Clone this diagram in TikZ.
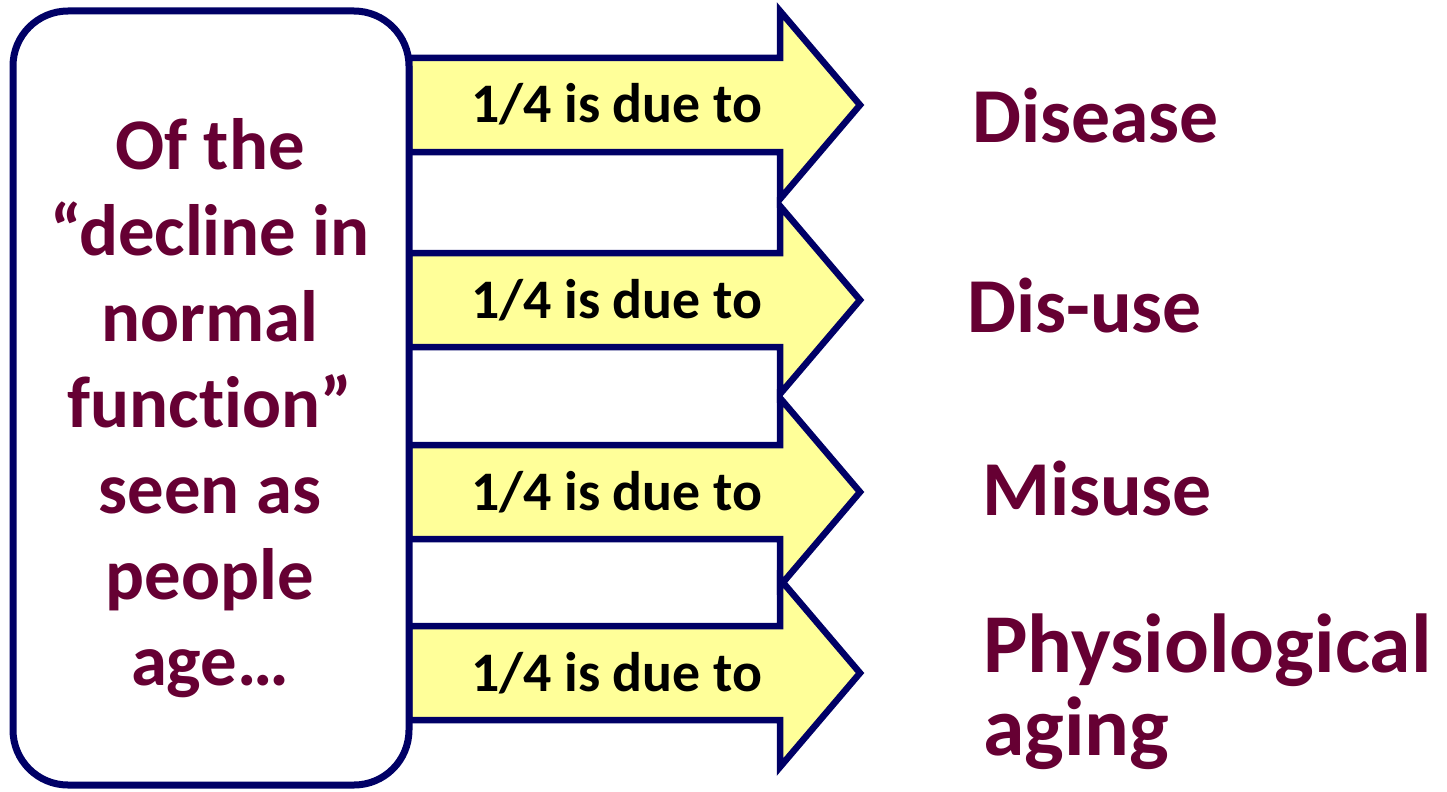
\documentclass[tikz,border=0pt]{standalone}
\usepackage{fontspec}
\setmainfont{Carlito}[Ligatures=NoCommon]
\definecolor{navy}{HTML}{000066}
\definecolor{maroon}{HTML}{660033}
\definecolor{paleyellow}{HTML}{FFFF99}
\begin{document}
\begin{tikzpicture}[x=1bp,y=-1bp,
  bigtext/.style={text=maroon,font=\fontsize{78}{84}\selectfont\bfseries,inner sep=0pt},
  arrowtext/.style={text=black,font=\fontsize{56}{60}\selectfont\bfseries,inner sep=0pt,anchor=base west},
  arrowshape/.style={draw=navy,fill=paleyellow,line width=6.5bp,line join=miter},
  boxshape/.style={draw=navy,fill=white,line width=7bp,rounded corners=55bp}]
\useasboundingbox (0,0) rectangle (1447,791);
% arrows
\foreach \c/\n in {105/a1,300/a2,492/a3,673/a4}{
  \draw[arrowshape] (409,\c-47) -- (780,\c-47) -- (780,\c-94) -- (860,\c) -- (780,\c+94) -- (780,\c+47) -- (409,\c+47) -- cycle;
}
\node[arrowtext] (t1) at (471,122) {1/4 is due to};
\node[arrowtext] (t2) at (471,318) {1/4 is due to};
\node[arrowtext] (t3) at (471,510) {1/4 is due to};
\node[arrowtext] (t4) at (471,691) {1/4 is due to};
% box
\draw[boxshape] (13,11) rectangle (409,785);
\node[bigtext,align=center,anchor=base,font=\fontsize{73}{86.3}\selectfont\bfseries] (box) at (210,685)
 {Of the\\“decline in\\normal\\function”\\seen as\\people\\age…};
% right labels
\node[bigtext,anchor=base west] (l1) at (972,142) {Disease};
\node[bigtext,anchor=base west] (l2) at (967,332) {Dis-use};
\node[bigtext,anchor=base west] (l3) at (982,515) {Misuse};
\node[bigtext,anchor=base west,align=left,font=\fontsize{84}{83}\selectfont\bfseries] (l4) at (983,755) {Physiological\\aging};
\end{tikzpicture}
\end{document}
